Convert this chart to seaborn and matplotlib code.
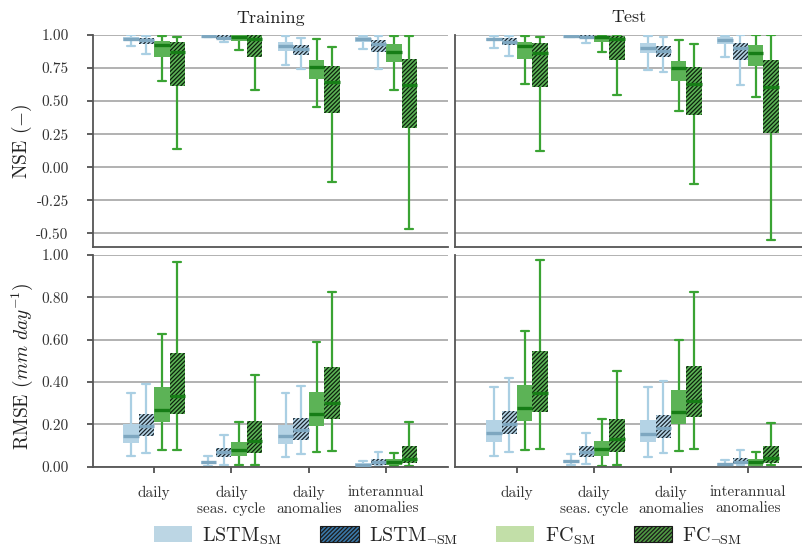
import numpy as np
import pandas as pd
import matplotlib
matplotlib.use("Agg")
import matplotlib.pyplot as plt
import seaborn as sns
from matplotlib.patches import Patch

categories = ["daily", "daily\nseas. cycle", "daily\nanomalies", "interannual\nanomalies"]
models = ["LSTM_SM", "LSTM_nSM", "FC_SM", "FC_nSM"]
legend_labels = [r"LSTM$_{\mathrm{SM}}$", r"LSTM$_{\neg\mathrm{SM}}$",
                 r"FC$_{\mathrm{SM}}$", r"FC$_{\neg\mathrm{SM}}$"]
splits = ["Training", "Test"]

# five-number summaries [min, q1, median, q3, max], one per category
nse_train_lstm_sm = [[0.917, 0.957, 0.972, 0.987, 0.997], [0.985, 0.992, 0.996, 0.999, 1.0],
                     [0.770, 0.877, 0.914, 0.945, 0.990], [0.891, 0.945, 0.970, 0.987, 0.996]]
nse_train_lstm_nsm = [[0.854, 0.930, 0.960, 0.975, 0.996], [0.945, 0.972, 0.980, 0.998, 1.0],
                      [0.742, 0.851, 0.894, 0.924, 0.977], [0.740, 0.869, 0.932, 0.962, 0.996]]
nse_train_fc_sm = [[0.649, 0.831, 0.924, 0.955, 0.990], [0.886, 0.952, 0.987, 0.999, 1.0],
                   [0.457, 0.669, 0.760, 0.810, 0.967], [0.581, 0.793, 0.874, 0.932, 0.996]]
nse_train_fc_nsm = [[0.139, 0.616, 0.869, 0.945, 0.985], [0.583, 0.831, 0.967, 0.999, 1.0],
                    [-0.111, 0.411, 0.646, 0.765, 0.912], [-0.470, 0.298, 0.621, 0.816, 0.990]]

nse_test_lstm_sm = [[0.904, 0.955, 0.970, 0.980, 0.995], [0.985, 0.990, 0.995, 0.999, 1.0],
                    [0.735, 0.861, 0.904, 0.937, 0.990], [0.836, 0.930, 0.962, 0.985, 0.996]]
nse_test_lstm_nsm = [[0.841, 0.922, 0.950, 0.975, 0.996], [0.937, 0.975, 0.985, 0.999, 1.0],
                     [0.720, 0.836, 0.881, 0.914, 0.985], [0.624, 0.813, 0.904, 0.942, 0.997]]
nse_test_fc_sm = [[0.631, 0.821, 0.919, 0.947, 0.990], [0.874, 0.944, 0.985, 0.995, 1.0],
                  [0.427, 0.654, 0.747, 0.800, 0.965], [0.528, 0.768, 0.866, 0.922, 1.0]]
nse_test_fc_nsm = [[0.121, 0.608, 0.861, 0.939, 0.985], [0.545, 0.811, 0.967, 0.992, 1.0],
                   [-0.126, 0.396, 0.629, 0.755, 0.932], [-0.553, 0.260, 0.608, 0.808, 1.0]]

rmse_train_lstm_sm = [[0.051, 0.114, 0.147, 0.204, 0.346], [0.005, 0.013, 0.022, 0.028, 0.051],
                      [0.047, 0.107, 0.145, 0.197, 0.346], [0.002, 0.005, 0.009, 0.016, 0.027]]
rmse_train_lstm_nsm = [[0.065, 0.147, 0.190, 0.248, 0.392], [0.009, 0.047, 0.068, 0.087, 0.150],
                       [0.060, 0.126, 0.171, 0.229, 0.379], [0.005, 0.008, 0.022, 0.035, 0.070]]
rmse_train_fc_sm = [[0.079, 0.209, 0.269, 0.376, 0.626], [0.006, 0.052, 0.079, 0.115, 0.213],
                    [0.071, 0.194, 0.251, 0.354, 0.589], [0.003, 0.009, 0.024, 0.035, 0.066]]
rmse_train_fc_nsm = [[0.079, 0.251, 0.335, 0.537, 0.965], [0.006, 0.066, 0.122, 0.215, 0.431],
                     [0.076, 0.227, 0.300, 0.471, 0.825], [0.005, 0.019, 0.038, 0.096, 0.209]]

rmse_test_lstm_sm = [[0.052, 0.118, 0.158, 0.221, 0.375], [0.006, 0.017, 0.027, 0.033, 0.060],
                     [0.047, 0.118, 0.156, 0.221, 0.375], [0.002, 0.003, 0.011, 0.016, 0.033]]
rmse_test_lstm_nsm = [[0.069, 0.156, 0.202, 0.263, 0.418], [0.011, 0.047, 0.071, 0.096, 0.161],
                      [0.065, 0.137, 0.185, 0.243, 0.404], [0.008, 0.011, 0.024, 0.039, 0.080]]
rmse_test_fc_sm = [[0.080, 0.218, 0.276, 0.385, 0.639], [0.003, 0.050, 0.082, 0.120, 0.226],
                   [0.073, 0.202, 0.260, 0.361, 0.599], [0.003, 0.005, 0.024, 0.036, 0.071]]
rmse_test_fc_nsm = [[0.085, 0.260, 0.350, 0.547, 0.975], [0.008, 0.071, 0.129, 0.224, 0.454],
                    [0.084, 0.235, 0.311, 0.475, 0.826], [0.006, 0.017, 0.043, 0.096, 0.208]]

nse_ticks = [-0.50, -0.25, 0.00, 0.25, 0.50, 0.75, 1.00]
rmse_ticks = [0.00, 0.20, 0.40, 0.60, 0.80, 1.00]

panels = {
    ("NSE", "Training"): [nse_train_lstm_sm, nse_train_lstm_nsm, nse_train_fc_sm, nse_train_fc_nsm],
    ("NSE", "Test"): [nse_test_lstm_sm, nse_test_lstm_nsm, nse_test_fc_sm, nse_test_fc_nsm],
    ("RMSE", "Training"): [rmse_train_lstm_sm, rmse_train_lstm_nsm, rmse_train_fc_sm, rmse_train_fc_nsm],
    ("RMSE", "Test"): [rmse_test_lstm_sm, rmse_test_lstm_nsm, rmse_test_fc_sm, rmse_test_fc_nsm],
}

rows = []
for (metric, split), series in panels.items():
    for model, stats in zip(models, series):
        for cat, five in zip(categories, stats):
            for v in five:
                rows.append(dict(metric=metric, split=split, model=model, category=cat, value=v))
df = pd.DataFrame(rows)

sns.set_theme(style="white")
plt.rcParams["font.family"] = ["cmr10"]
plt.rcParams["mathtext.fontset"] = "cm"
plt.rcParams["axes.unicode_minus"] = False
plt.rcParams["axes.formatter.use_mathtext"] = True
plt.rcParams["hatch.linewidth"] = 0.9

box_face = ["#b4d3e5", "#b4d3e5", "#5cb356", "#5cb356"]
whisk_col = ["#aacfe3", "#aacfe3", "#3aa333", "#3aa333"]
med_col = ["#7ea7c0", "#7ea7c0", "#167d16", "#167d16"]
hatch_col = [None, "#1a242c", None, "#0c220d"]
hatches = [None, "////////", None, "////////"]

fig = plt.figure(figsize=(8.02, 5.49), dpi=100)
W, H = 802.0, 549.0
xpos = {"Training": (93, 448, (-0.79, 3.80)), "Test": (455, 802, (-0.805, 3.70))}
ypos = {"NSE": (35, 246.7, (-0.601, 1.0)), "RMSE": (255, 466.7, (0.0, 1.0))}

axes = {}
for metric in ["NSE", "RMSE"]:
    for split in splits:
        x0, x1, xl = xpos[split]
        y0, y1, yl = ypos[metric]
        ax = fig.add_axes([x0 / W, 1 - y1 / H, (x1 - x0) / W, (y1 - y0) / H])
        sub = df[(df.metric == metric) & (df.split == split)]
        sns.boxplot(data=sub, x="category", y="value", hue="model", order=categories,
                    hue_order=models, palette=box_face, whis=(0, 100), showfliers=False,
                    width=0.8, gap=0, linewidth=1.6, saturation=1, legend=False, ax=ax,
                    medianprops=dict(gid="median", linewidth=2.4),
                    whiskerprops=dict(gid="whisker"), capprops=dict(gid="cap"))
        for p in ax.patches:
            v = p.get_path().vertices
            xc = (v[:, 0].min() + v[:, 0].max()) / 2
            k = int(round((xc - round(xc) + 0.3) / 0.2))
            k = min(max(k, 0), 3)
            p.set_facecolor(box_face[k])
            p.set_linewidth(0)
            if hatches[k]:
                p.set_hatch(hatches[k])
                p.set_edgecolor(hatch_col[k])
            else:
                p.set_edgecolor(box_face[k])
            p.set_zorder(2)
        for ln in ax.lines:
            xd = np.asarray(ln.get_xdata(), dtype=float)
            if xd.size == 0:
                continue
            xc = xd.mean()
            k = int(round((xc - round(xc) + 0.3) / 0.2))
            k = min(max(k, 0), 3)
            if ln.get_gid() == "median":
                ln.set_color(med_col[k])
                ln.set_zorder(3)
            else:
                ln.set_color(whisk_col[k])
                ln.set_zorder(1.5)
        ax.set_xlim(*xl)
        ax.set_ylim(*yl)
        ax.set_xlabel("")
        ax.set_ylabel("")
        ticks = nse_ticks if metric == "NSE" else rmse_ticks
        ax.set_yticks(ticks)
        ax.set_yticklabels([f"{t:.2f}" for t in ticks])
        ax.yaxis.grid(True, color="#9c9c9c", linewidth=1.1)
        ax.xaxis.grid(False)
        ax.set_axisbelow(True)
        for s in ["top", "right"]:
            ax.spines[s].set_visible(False)
        for s in ["left", "bottom"]:
            ax.spines[s].set_color("#555555")
            ax.spines[s].set_linewidth(1.3)
        ax.tick_params(axis="both", labelsize=11, colors="#333333", length=4.5, width=1.1,
                       direction="out")
        ax.tick_params(axis="y", left=True, pad=13)
        ax.tick_params(axis="x", bottom=True, pad=9)
        if metric == "NSE":
            ax.tick_params(axis="x", bottom=False, labelbottom=False)
            ax.set_title(split, fontsize=13, pad=9, color="#222222")
        if split == "Test":
            ax.tick_params(axis="y", left=False, labelleft=False)
        axes[(metric, split)] = ax

fig.text(22 / W, 1 - 141 / H, r"NSE $(-)$", rotation=90, ha="center", va="center",
         fontsize=14, color="#222222")
fig.text(22 / W, 1 - 366 / H, r"RMSE $(mm\ day^{-1})$", rotation=90, ha="center",
         va="center", fontsize=14, color="#222222")

leg_face = ["#bcd6e4", "#3a78a8", "#c2dfa8", "#4f9a43"]
handles = []
for k in range(4):
    if hatches[k]:
        handles.append(Patch(facecolor=leg_face[k], edgecolor="#1a1a1a", hatch="////////",
                             linewidth=0.8))
    else:
        handles.append(Patch(facecolor=leg_face[k], edgecolor=leg_face[k], linewidth=0))
fig.legend(handles, legend_labels, loc="center", bbox_to_anchor=(448 / W, 1 - 536 / H),
           ncol=4, frameon=False, fontsize=14.5, handlelength=1.9, handleheight=0.85,
           handletextpad=0.5, columnspacing=1.9)

fig.savefig("out.png", dpi=100)
